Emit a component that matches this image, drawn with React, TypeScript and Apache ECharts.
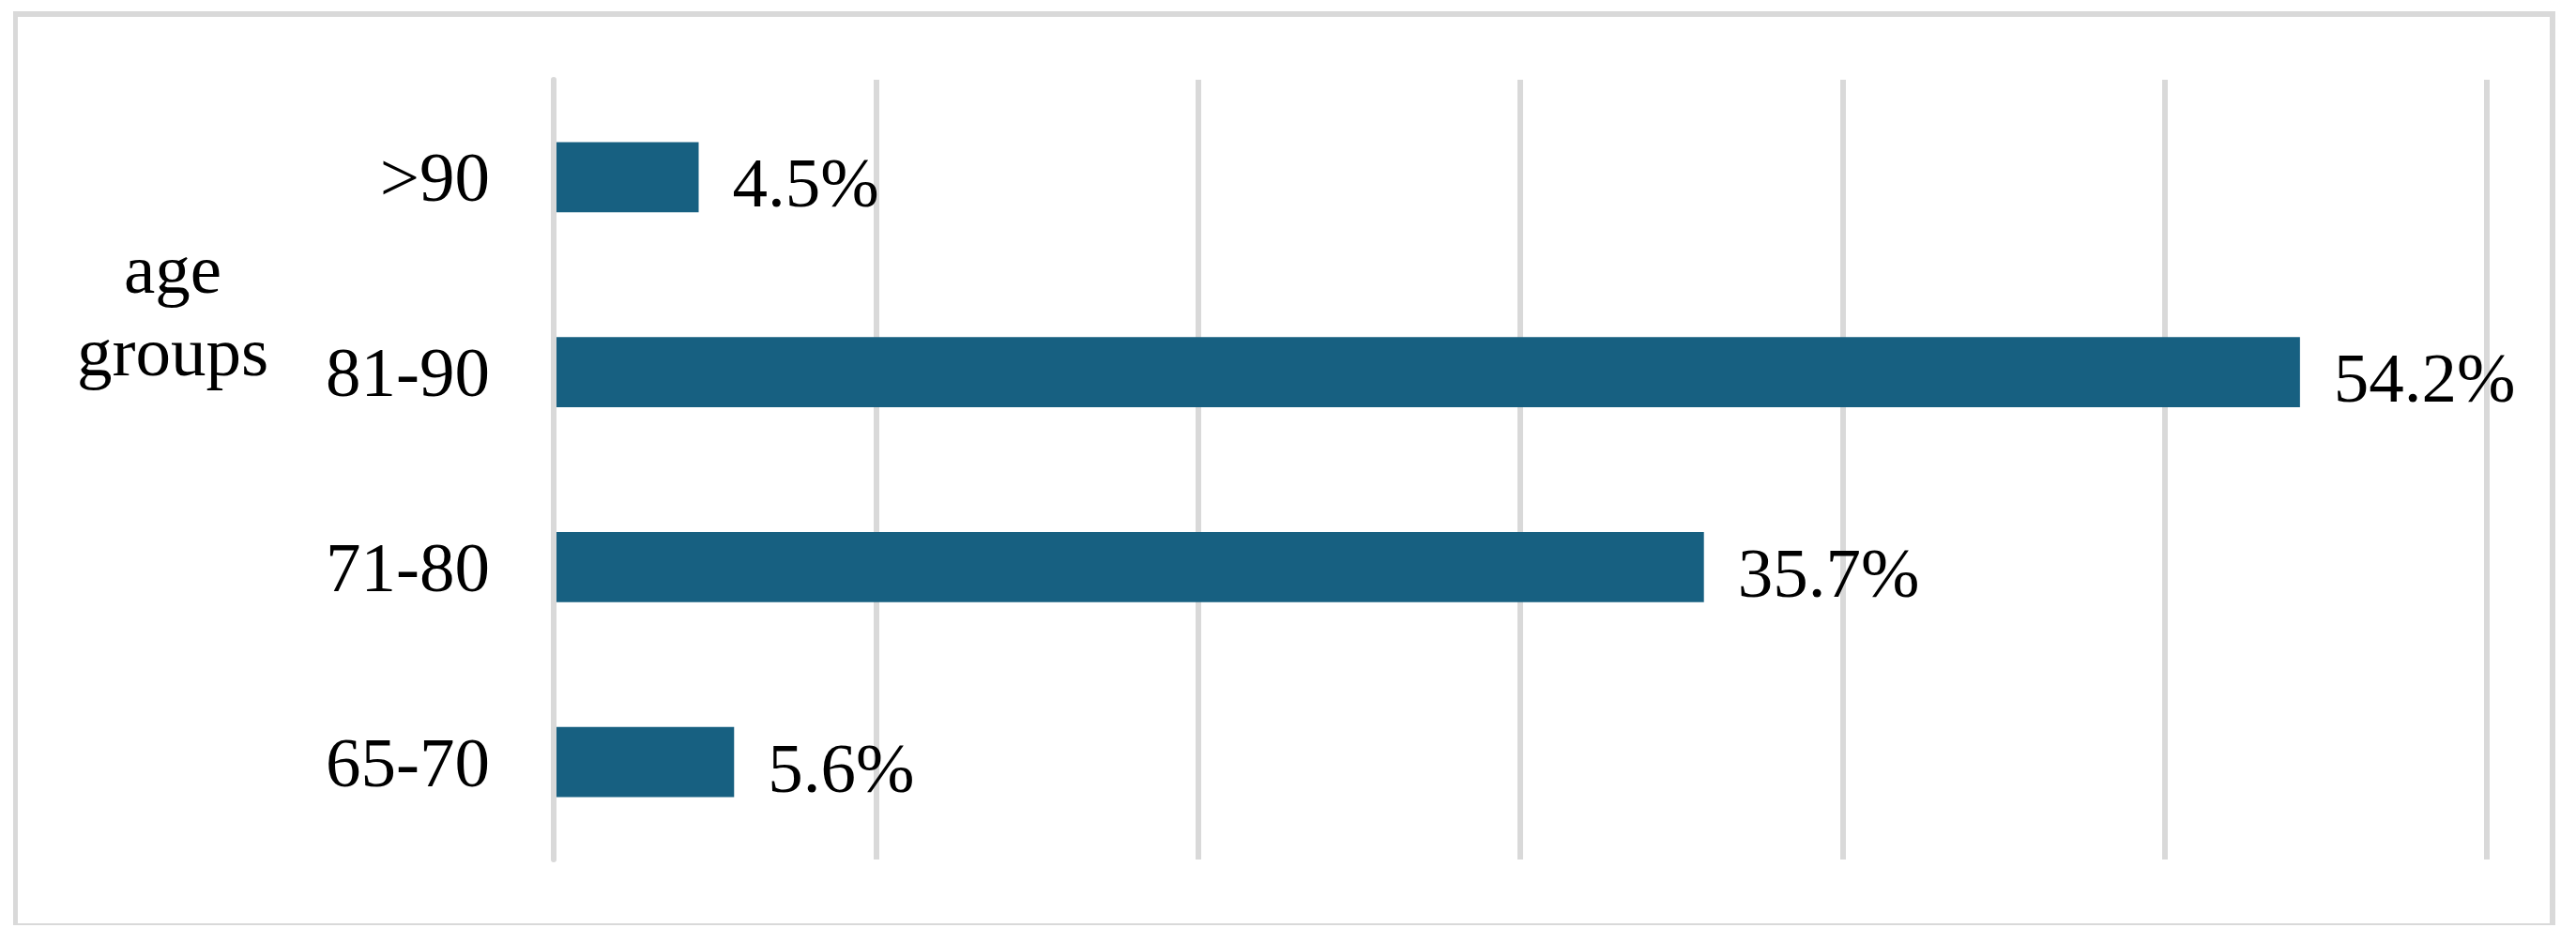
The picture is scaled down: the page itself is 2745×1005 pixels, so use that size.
import React, { useEffect, useRef } from "react";
import * as echarts from "echarts";

const categories = ["65-70", "71-80", "81-90", ">90"];
const values = [5.6, 35.7, 54.2, 4.5];
const axisTitle = "age\ngroups";

const FONT = "'Liberation Serif', 'Times New Roman', serif";
const GRID_GREY = "#d9d9d9";

export default function App() {
  const ref = useRef<HTMLDivElement>(null);
  useEffect(() => {
    document.body.style.margin = "0";
    const chart = echarts.init(ref.current!, null, { renderer: "svg" });
    const border = (x1: number, y1: number, x2: number, y2: number, w: number) => ({
      type: "line",
      shape: { x1, y1, x2, y2 },
      style: { stroke: GRID_GREY, lineWidth: w },
      silent: true,
    });
    chart.setOption({
      animation: false,
      backgroundColor: "#ffffff",
      grid: { left: 590, right: 95, top: 85, bottom: 89 },
      xAxis: {
        type: "value",
        min: 0,
        max: 60,
        interval: 10,
        axisLabel: { show: false },
        axisLine: { show: false },
        axisTick: { show: false },
        splitLine: { show: true, lineStyle: { color: GRID_GREY, width: 6 } },
      },
      yAxis: {
        type: "category",
        data: categories,
        z: 5,
        axisLine: { show: true, lineStyle: { color: GRID_GREY, width: 6 } },
        axisTick: { show: false },
        splitLine: { show: false },
        axisLabel: {
          fontFamily: FONT,
          fontSize: 75,
          color: "#000000",
          margin: 68,
        },
      },
      series: [
        {
          type: "bar",
          data: values,
          barCategoryGap: "64%",
          itemStyle: { color: "#176081" },
          label: {
            show: true,
            position: "right",
            distance: 36,
            offset: [0, 6],
            fontFamily: FONT,
            fontSize: 75,
            color: "#000000",
            formatter: (p: any) => `${Number(p.value).toFixed(1)}%`,
          },
        },
      ],
      graphic: [
        border(14, 15, 2723, 15, 6),
        border(16.5, 12, 16.5, 986, 5),
        border(2720, 12, 2720, 986, 6),
        border(14, 985, 2723, 985, 2),
        {
          type: "text",
          x: 184,
          y: 330,
          style: {
            text: axisTitle,
            fontFamily: FONT,
            fontSize: 75,
            lineHeight: 88,
            fill: "#000000",
            textAlign: "center",
            textVerticalAlign: "middle",
          },
        },
      ],
    });
    return () => chart.dispose();
  }, []);
  return <div ref={ref} style={{ width: 2745, height: 1005 }} />;
}
